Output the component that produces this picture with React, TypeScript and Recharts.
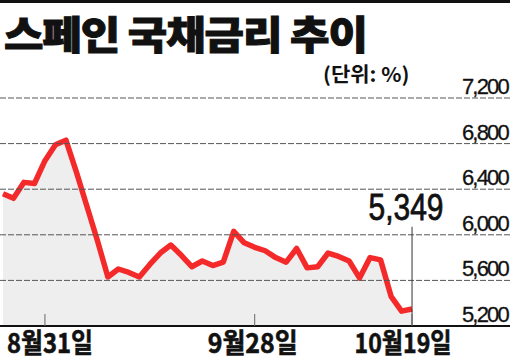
import { ComposedChart, Area, XAxis, YAxis, ReferenceLine } from "recharts";

// trading days, Aug 27 - Oct 19
const days = [
  "8/27", "8/28", "8/29", "8/30", "8/31",
  "9/3", "9/4", "9/5", "9/6", "9/7", "9/10", "9/11", "9/12", "9/13", "9/14",
  "9/17", "9/18", "9/19", "9/20", "9/21", "9/24", "9/25", "9/26", "9/27", "9/28",
  "10/1", "10/2", "10/3", "10/4", "10/5", "10/8", "10/9", "10/10", "10/11", "10/12",
  "10/15", "10/16", "10/17", "10/18", "10/19",
];

const rates = [
  6.36, 6.32, 6.46, 6.45, 6.65, 6.79, 6.83, 6.55, 6.25, 5.95,
  5.63, 5.7, 5.67, 5.63, 5.74, 5.84, 5.91, 5.82, 5.72, 5.77,
  5.73, 5.76, 6.03, 5.93, 5.89, 5.86, 5.8, 5.76, 5.88, 5.71,
  5.72, 5.84, 5.81, 5.77, 5.62, 5.8, 5.78, 5.46, 5.33, 5.349,
];

const yTicks = [5.2, 5.6, 6.0, 6.4, 6.8, 7.2];
const xTickIndex = [4, 24, 39];
const xTickLabels = ["8월31일", "9월28일", "10월19일"];

const data = days.map((d, i) => ({ i, day: d, rate: rates[i] }));
const lastIdx = rates.length - 1;

const fmt = (v: number) => v.toFixed(3).replace(".", ",");

const KR = "'Noto Sans CJK KR', 'Noto Sans', sans-serif";
const NUM = "'Liberation Sans', Arial, sans-serif";

// per-label horizontal nudge + squeezed width, matches the condensed newspaper type
const labelNudge = [5, -2, -9];
const labelWidth = [86, 90, 97];

function XTick(props: any) {
  const { x, y, payload } = props;
  const k = xTickIndex.indexOf(payload.value);
  return (
    <g>
      <line x1={x} y1={y - 12} x2={x} y2={y} stroke="#666" strokeWidth={1} />
      <text
        x={x + labelNudge[k]}
        y={y + 27}
        textAnchor="middle"
        textLength={labelWidth[k]}
        lengthAdjust="spacingAndGlyphs"
        fontFamily={KR}
        fontWeight={700}
        fontSize={27}
        fill="#111"
        stroke="#111"
        strokeWidth={0.6}
      >
        {xTickLabels[k]}
      </text>
    </g>
  );
}

function YLabel(props: any) {
  const vb = props.viewBox || {};
  return (
    <text
      x={vb.x + vb.width - 2}
      y={vb.y - 4}
      textAnchor="end"
      letterSpacing={-1.8}
      fontFamily={NUM}
      fontSize={22}
      fill="#111"
      stroke="#111"
      strokeWidth={0.3}
    >
      {fmt(props.v)}
    </text>
  );
}

function LastLabel(props: any) {
  const vb = props.viewBox || {};
  return (
    <text
      x={vb.x - 6}
      y={vb.y - 7}
      textAnchor="middle"
      textLength={75}
      lengthAdjust="spacingAndGlyphs"
      fontFamily={NUM}
      fontSize={37}
      fill="#111"
      stroke="#111"
      strokeWidth={0.8}
    >
      {fmt(rates[lastIdx])}
    </text>
  );
}

export default function App() {
  return (
    <div style={{ position: "absolute", left: 0, top: 0, width: 510, height: 360, background: "#fff", overflow: "hidden" }}>
      <div style={{ position: "absolute", left: 0, top: 0, width: 510, height: 3, background: "#111" }} />
      <div
        style={{
          position: "absolute",
          left: 4,
          top: 13,
          fontFamily: KR,
          fontWeight: 900,
          fontSize: 39,
          lineHeight: 1,
          letterSpacing: -1,
          color: "#111",
          whiteSpace: "nowrap",
          transform: "scaleX(1.1)",
          transformOrigin: "0 0",
          WebkitTextStroke: "1px #111",
        }}
      >
        스페인 국채금리 추이
      </div>
      <div
        style={{
          position: "absolute",
          left: 323,
          top: 64,
          fontFamily: KR,
          fontWeight: 700,
          fontSize: 20,
          lineHeight: 1,
          color: "#111",
          whiteSpace: "nowrap",
          transform: "scaleX(1.05)",
          transformOrigin: "0 0",
        }}
      >
        (단위: %)
      </div>
      <ComposedChart
        width={510}
        height={360}
        data={data}
        margin={{ top: 98, right: 0, bottom: 0, left: 0 }}
      >
        <XAxis
          dataKey="i"
          type="number"
          domain={[-0.286, 48.34]}
          ticks={xTickIndex}
          allowDataOverflow
          height={34}
          tickSize={0}
          tickMargin={0}
          tickLine={false}
          axisLine={{ stroke: "#111", strokeWidth: 2 }}
          tick={<XTick />}
          interval={0}
        />
        <YAxis
          orientation="right"
          width={0}
          domain={[5.2, 7.2]}
          ticks={yTicks}
          axisLine={false}
          tickLine={false}
          tick={false}
          allowDataOverflow
        />
        <Area
          type="linear"
          dataKey="rate"
          stroke="none"
          fill="#000"
          fillOpacity={0.065}
          isAnimationActive={false}
          dot={false}
          activeDot={false}
        />
        {yTicks.map((v) => (
          <ReferenceLine
            key={v}
            y={v}
            ifOverflow="visible"
            stroke={v === yTicks[0] ? "none" : "#555"}
            strokeDasharray="6 2"
            label={<YLabel v={v} />}
          />
        ))}
        <Area
          type="linear"
          dataKey="rate"
          stroke="#f42a2a"
          strokeWidth={5.5}
          strokeLinejoin="round"
          fill="none"
          isAnimationActive={false}
          dot={false}
          activeDot={false}
        />
        <ReferenceLine
          segment={[
            { x: lastIdx, y: 5.2 },
            { x: lastIdx, y: 6.07 },
          ]}
          stroke="#333"
          strokeWidth={1}
          label={<LastLabel />}
        />
      </ComposedChart>
    </div>
  );
}
